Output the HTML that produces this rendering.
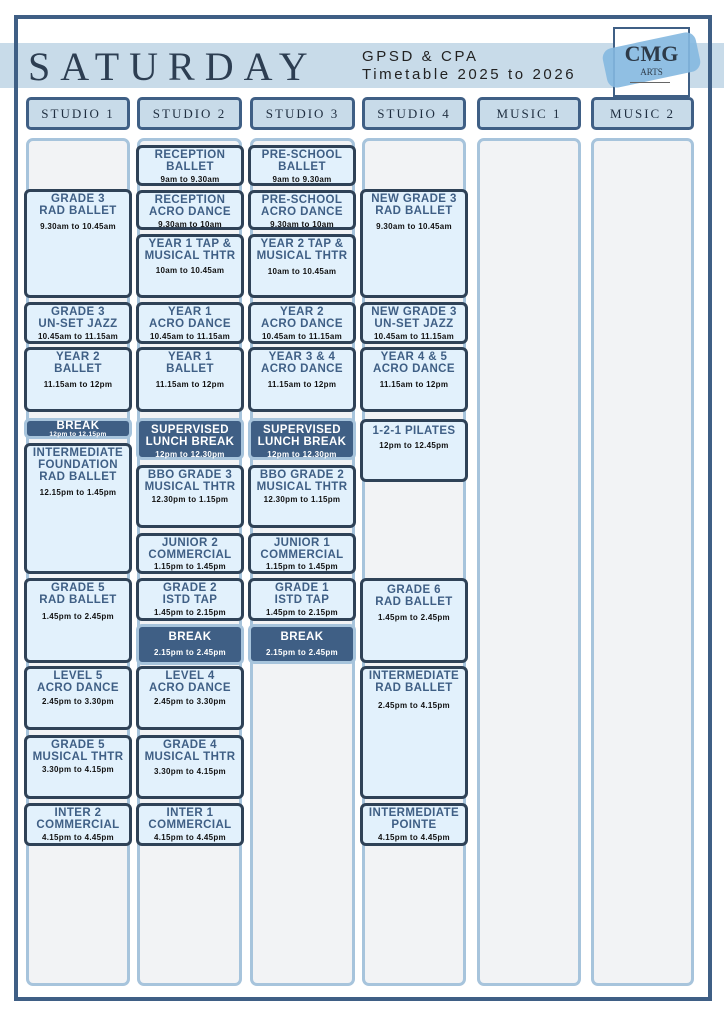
<!DOCTYPE html>
<html><head><meta charset="utf-8"><style>
*{box-sizing:border-box;margin:0;padding:0}
body{width:724px;height:1024px;background:#fff;position:relative;overflow:hidden;font-family:"Liberation Sans","DejaVu Sans",sans-serif}
.a{position:absolute}
.frame{left:14px;top:15px;width:698px;height:986px;border:4px solid #3f5f85}
.band{left:0;top:43px;width:724px;height:45px;background:#c8dbe9}
.hd{position:absolute;top:97px;height:33px;background:#c8dbe9;border:3px solid #3f5f85;border-radius:5px;font-family:"Liberation Serif",serif;font-size:13px;letter-spacing:2px;color:#1f2e40;text-align:center;line-height:27px}
.col{position:absolute;top:138px;height:848px;background:#f2f3f5;border:3px solid #a7c4dc;border-radius:7px}
.b{position:absolute;background:#e2f1fc;border:3px solid #2f4257;border-radius:6px;text-align:center;color:#3f5f85;font-weight:bold;font-size:11.5px;line-height:12px;letter-spacing:.4px;padding-top:1px}
.b i{display:block;font-style:normal;color:#111;font-size:8px;line-height:13px;letter-spacing:.3px}
.d{background:#3f5f85;border-color:#a7c4dc;color:#fff}
.d i{color:#fff}
</style></head><body>
<div class="a band"></div>
<div class="a frame"></div>
<div class="a" style="left:28px;top:43px;font-family:'Liberation Serif',serif;font-size:40px;letter-spacing:10px;color:#2d3e52">SATURDAY</div>
<div class="a" style="left:362px;top:48px;font-size:15px;letter-spacing:2.6px;color:#222;line-height:18px">GPSD &amp; CPA<br>Timetable 2025 to 2026</div>
<div class="a" style="left:613px;top:27px;width:77px;height:70px;border:2px solid #3f5f85;background:#fff"></div>
<div class="a" style="left:604px;top:40px;width:95px;height:40px;background:#84b8e0;transform:rotate(-12deg);border-radius:10px;opacity:.9"></div>
<div class="a" style="left:613px;top:42px;width:77px;text-align:center;font-family:'Liberation Serif',serif;font-weight:bold;font-size:22px;color:#2d3a48;line-height:24px">CMG</div>
<div class="a" style="left:613px;top:67px;width:77px;text-align:center;font-family:'Liberation Serif',serif;font-size:9px;color:#2d3a48">ARTS</div>
<div class="a" style="left:630px;top:82px;width:40px;height:1px;background:#666"></div>

<div class="hd" style="left:26px;width:104px">STUDIO 1</div>
<div class="hd" style="left:137px;width:105px">STUDIO 2</div>
<div class="hd" style="left:250px;width:105px">STUDIO 3</div>
<div class="hd" style="left:362px;width:104px">STUDIO 4</div>
<div class="hd" style="left:477px;width:104px">MUSIC 1</div>
<div class="hd" style="left:591px;width:103px">MUSIC 2</div>

<div class="col" style="left:26px;width:104px"></div>
<div class="col" style="left:137px;width:105px"></div>
<div class="col" style="left:250px;width:105px"></div>
<div class="col" style="left:362px;width:104px"></div>
<div class="col" style="left:477px;width:104px"></div>
<div class="col" style="left:591px;width:103px"></div>

<!-- col1 -->
<div class="b" style="left:24px;top:189px;width:108px;height:109px">GRADE 3<br>RAD BALLET<i style="margin-top:3px">9.30am to 10.45am</i></div>
<div class="b" style="left:24px;top:302px;width:108px;height:42px">GRADE 3<br>UN-SET JAZZ<i>10.45am to 11.15am</i></div>
<div class="b" style="left:24px;top:347px;width:108px;height:65px">YEAR 2<br>BALLET<i style="margin-top:3px">11.15am to 12pm</i></div>
<div class="b d" style="left:24px;top:418px;width:108px;height:21px;line-height:10px;padding-top:0">BREAK<i style="font-size:6.5px;line-height:8px">12pm to 12.15pm</i></div>
<div class="b" style="left:24px;top:443px;width:108px;height:131px">INTERMEDIATE<br>FOUNDATION<br>RAD BALLET<i style="margin-top:3px">12.15pm to 1.45pm</i></div>
<div class="b" style="left:24px;top:578px;width:108px;height:85px">GRADE 5<br>RAD BALLET<i style="margin-top:4px">1.45pm to 2.45pm</i></div>
<div class="b" style="left:24px;top:666px;width:108px;height:64px">LEVEL 5<br>ACRO DANCE<i style="margin-top:1px">2.45pm to 3.30pm</i></div>
<div class="b" style="left:24px;top:735px;width:108px;height:64px">GRADE 5<br>MUSICAL THTR<i>3.30pm to 4.15pm</i></div>
<div class="b" style="left:24px;top:803px;width:108px;height:43px">INTER 2<br>COMMERCIAL<i>4.15pm to 4.45pm</i></div>

<!-- col2 -->
<div class="b" style="left:136px;top:145px;width:108px;height:41px">RECEPTION<br>BALLET<i>9am to 9.30am</i></div>
<div class="b" style="left:136px;top:190px;width:108px;height:40px">RECEPTION<br>ACRO DANCE<i>9.30am to 10am</i></div>
<div class="b" style="left:136px;top:234px;width:108px;height:64px">YEAR 1 TAP &amp;<br>MUSICAL THTR<i style="margin-top:2px">10am to 10.45am</i></div>
<div class="b" style="left:136px;top:302px;width:108px;height:42px">YEAR 1<br>ACRO DANCE<i>10.45am to 11.15am</i></div>
<div class="b" style="left:136px;top:347px;width:108px;height:65px">YEAR 1<br>BALLET<i style="margin-top:3px">11.15am to 12pm</i></div>
<div class="b d" style="left:136px;top:418px;width:108px;height:42px;padding-top:3px">SUPERVISED<br>LUNCH BREAK<i>12pm to 12.30pm</i></div>
<div class="b" style="left:136px;top:465px;width:108px;height:63px">BBO GRADE 3<br>MUSICAL THTR<i>12.30pm to 1.15pm</i></div>
<div class="b" style="left:136px;top:533px;width:108px;height:41px">JUNIOR 2<br>COMMERCIAL<i style="line-height:11px">1.15pm to 1.45pm</i></div>
<div class="b" style="left:136px;top:578px;width:108px;height:43px">GRADE 2<br>ISTD TAP<i>1.45pm to 2.15pm</i></div>
<div class="b d" style="left:136px;top:624px;width:108px;height:41px;padding-top:4px">BREAK<i style="margin-top:3px">2.15pm to 2.45pm</i></div>
<div class="b" style="left:136px;top:666px;width:108px;height:64px">LEVEL 4<br>ACRO DANCE<i style="margin-top:1px">2.45pm to 3.30pm</i></div>
<div class="b" style="left:136px;top:735px;width:108px;height:64px">GRADE 4<br>MUSICAL THTR<i style="margin-top:2px">3.30pm to 4.15pm</i></div>
<div class="b" style="left:136px;top:803px;width:108px;height:43px">INTER 1<br>COMMERCIAL<i>4.15pm to 4.45pm</i></div>

<!-- col3 -->
<div class="b" style="left:248px;top:145px;width:108px;height:41px">PRE-SCHOOL<br>BALLET<i>9am to 9.30am</i></div>
<div class="b" style="left:248px;top:190px;width:108px;height:40px">PRE-SCHOOL<br>ACRO DANCE<i>9.30am to 10am</i></div>
<div class="b" style="left:248px;top:234px;width:108px;height:64px">YEAR 2 TAP &amp;<br>MUSICAL THTR<i style="margin-top:3px">10am to 10.45am</i></div>
<div class="b" style="left:248px;top:302px;width:108px;height:42px">YEAR 2<br>ACRO DANCE<i>10.45am to 11.15am</i></div>
<div class="b" style="left:248px;top:347px;width:108px;height:65px">YEAR 3 &amp; 4<br>ACRO DANCE<i style="margin-top:3px">11.15am to 12pm</i></div>
<div class="b d" style="left:248px;top:418px;width:108px;height:42px;padding-top:3px">SUPERVISED<br>LUNCH BREAK<i>12pm to 12.30pm</i></div>
<div class="b" style="left:248px;top:465px;width:108px;height:63px">BBO GRADE 2<br>MUSICAL THTR<i>12.30pm to 1.15pm</i></div>
<div class="b" style="left:248px;top:533px;width:108px;height:41px">JUNIOR 1<br>COMMERCIAL<i style="line-height:11px">1.15pm to 1.45pm</i></div>
<div class="b" style="left:248px;top:578px;width:108px;height:43px">GRADE 1<br>ISTD TAP<i>1.45pm to 2.15pm</i></div>
<div class="b d" style="left:248px;top:624px;width:108px;height:40px;padding-top:4px">BREAK<i style="margin-top:3px">2.15pm to 2.45pm</i></div>

<!-- col4 -->
<div class="b" style="left:360px;top:189px;width:108px;height:109px">NEW GRADE 3<br>RAD BALLET<i style="margin-top:3px">9.30am to 10.45am</i></div>
<div class="b" style="left:360px;top:302px;width:108px;height:42px">NEW GRADE 3<br>UN-SET JAZZ<i>10.45am to 11.15am</i></div>
<div class="b" style="left:360px;top:347px;width:108px;height:65px">YEAR 4 &amp; 5<br>ACRO DANCE<i style="margin-top:3px">11.15am to 12pm</i></div>
<div class="b" style="left:360px;top:419px;width:108px;height:63px;padding-top:3px">1-2-1 PILATES<i style="margin-top:2px">12pm to 12.45pm</i></div>
<div class="b" style="left:360px;top:578px;width:108px;height:85px;padding-top:3px">GRADE 6<br>RAD BALLET<i style="margin-top:3px">1.45pm to 2.45pm</i></div>
<div class="b" style="left:360px;top:666px;width:108px;height:133px">INTERMEDIATE<br>RAD BALLET<i style="margin-top:5px">2.45pm to 4.15pm</i></div>
<div class="b" style="left:360px;top:803px;width:108px;height:43px">INTERMEDIATE<br>POINTE<i>4.15pm to 4.45pm</i></div>
</body></html>
